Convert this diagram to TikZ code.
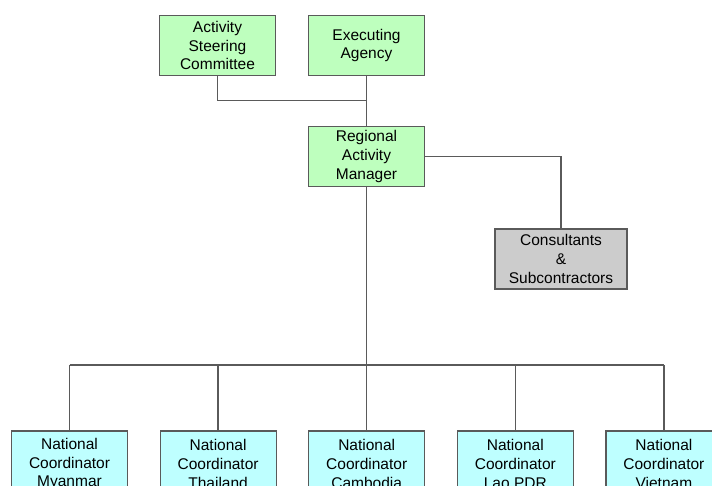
\documentclass[tikz,border=0pt]{standalone}
\usepackage{fontspec}
\setmainfont{Liberation Sans}
\usetikzlibrary{calc}
\definecolor{boxgreen}{RGB}{190,255,190}
\definecolor{boxcyan}{RGB}{190,255,255}
\definecolor{boxgray}{RGB}{204,204,204}
\definecolor{linegray}{RGB}{90,90,90}
\tikzset{
  orgbox/.style={draw=linegray, line width=1.2pt, rectangle, align=center,
    minimum width=116pt, minimum height=60pt, inner sep=0pt,
    font=\fontsize{15.5}{18.6}\selectfont},
  greenbox/.style={orgbox, fill=boxgreen},
  cyanbox/.style={orgbox, fill=boxcyan, minimum height=66pt},
  graybox/.style={orgbox, fill=boxgray, minimum width=132pt},
  link/.style={draw=linegray, line width=1.3pt}
}

\begin{document}
\begin{tikzpicture}[x=1pt, y=-1pt]
\clip (0,0) rectangle (712,485); %画像の範囲

\node[greenbox] (ASC) at (217.5,45.5) {Activity\\Steering\\Committee};
\node[greenbox] (EA) at (366.5,45.5) {Executing\\Agency};
\node[greenbox] (RAM) at (366.5,156.5) {Regional\\Activity\\Manager};
\node[graybox] (CS) at (561,259) {Consultants\\\&\\Subcontractors};

%各国のコーディネーター
\node[cyanbox] (N1) at (69.5,464) {National\\Coordinator\\Myanmar};
\node[cyanbox] (N2) at (218.1,464) {National\\Coordinator\\Thailand};
\node[cyanbox] (N3) at (366.7,464) {National\\Coordinator\\Cambodia};
\node[cyanbox] (N4) at (515.3,464) {National\\Coordinator\\Lao PDR};
\node[cyanbox] (N5) at (663.9,464) {National\\Coordinator\\Vietnam};

\coordinate (J) at ($(RAM.north)+(0,-25.5)$); %合流点
\coordinate (B) at (RAM.south |- 0,365); %横線の高さ

\draw[link] (ASC.south) |- (J);
\draw[link] (EA.south) -- (RAM.north);
\draw[link] (RAM.east) -| (CS.north);
\draw[link] (RAM.south) -- (B);

%横線と各国への縦線
\draw[link] (N1.north |- B) -- (N5.north |- B);
\foreach \n in {N1,N2,N3,N4,N5}
  \draw[link] (\n.north) -- (\n.north |- B);
\end{tikzpicture}
\end{document}
